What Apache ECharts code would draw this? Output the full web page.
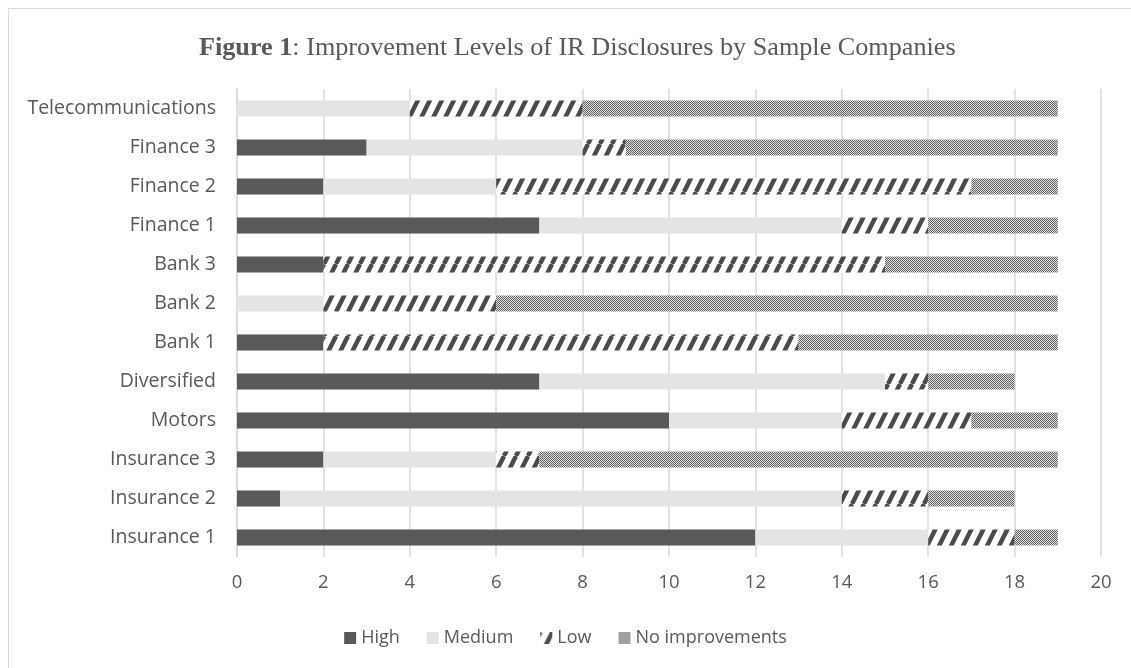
<!DOCTYPE html>
<html><head><meta charset="utf-8">
<script src="https://cdn.jsdelivr.net/npm/echarts@6/dist/echarts.min.js"></script>
<style>html,body{margin:0;padding:0;background:#fff}#c{width:1131px;height:668px}</style>
</head><body><div id="c"></div>
<script>
const categories = ['Insurance 1','Insurance 2','Insurance 3','Motors','Diversified','Bank 1','Bank 2','Bank 3','Finance 1','Finance 2','Finance 3','Telecommunications'];
const high   = [12, 1, 2, 10, 7, 2, 0, 2, 7, 2, 3, 0];
const medium = [4, 13, 4, 4, 8, 0, 2, 0, 7, 4, 5, 4];
const low    = [2, 2, 1, 3, 1, 11, 4, 13, 2, 11, 1, 4];
const noImp  = [1, 2, 12, 2, 2, 6, 13, 4, 3, 2, 10, 11];
const xTicks = [0, 2, 4, 6, 8, 10, 12, 14, 16, 18, 20];

function stripe(){
  const c = document.createElement('canvas'); c.width = 12; c.height = 24;
  const g = c.getContext('2d');
  g.fillStyle = '#fff'; g.fillRect(0,0,12,24);
  g.strokeStyle = '#4a4a4a'; g.lineWidth = 4.5;
  for (let k = -12; k <= 24; k += 12) { g.beginPath(); g.moveTo(k, 24); g.lineTo(k + 12, 0); g.stroke(); }
  return c;
}
function checker(){
  const c = document.createElement('canvas'); c.width = 2; c.height = 2;
  const g = c.getContext('2d');
  g.fillStyle = '#e0e0e0'; g.fillRect(0,0,2,2);
  g.fillStyle = '#606060'; g.fillRect(0,0,1,1); g.fillRect(1,1,1,1);
  return c;
}
const names = ['High','Medium','Low','No improvements'];
const colors = ['#595959', '#e4e4e4', {image: stripe(), repeat: 'repeat'}, {image: checker(), repeat: 'repeat'}];
const vals = [high, medium, low, noImp];
const chart = echarts.init(document.getElementById('c'), null, {renderer: 'canvas'});
chart.setOption({
  animation: false,
  backgroundColor: '#fff',
  graphic: [
    {type: 'line', shape: {x1: 8.5, y1: 8.5, x2: 1131, y2: 8.5}, style: {stroke: '#d9d9d9', lineWidth: 1}},
    {type: 'line', shape: {x1: 8.5, y1: 8.5, x2: 8.5, y2: 668}, style: {stroke: '#d9d9d9', lineWidth: 1}}
  ],
  title: {
    text: '{b|Figure 1}: Improvement Levels of IR Disclosures by Sample Companies',
    left: 194, top: 30,
    textStyle: {fontFamily: 'Liberation Serif', fontSize: 26.2, color: '#595959', fontWeight: 'normal',
      rich: {b: {fontFamily: 'Liberation Serif', fontSize: 26.2, fontWeight: 'bold', color: '#595959'}}}
  },
  legend: {
    data: names, bottom: 16, left: 'center', itemWidth: 12, itemHeight: 12, itemGap: 27,
    icon: 'rect',
    textStyle: {fontFamily: 'Open Sans', fontSize: 18, color: '#595959'}
  },
  grid: {left: 237, right: 30, top: 89, bottom: 111, containLabel: false},
  xAxis: {
    type: 'value', min: 0, max: 20, interval: 2,
    axisLine: {show: false}, axisTick: {show: false},
    splitLine: {lineStyle: {color: '#d9d9d9', width: 1.5}},
    axisLabel: {fontFamily: 'Open Sans', fontSize: 18.5, color: '#595959', margin: 16,
      formatter: v => xTicks.includes(v) ? String(v) : ''}
  },
  yAxis: {
    type: 'category', data: categories,
    axisLine: {lineStyle: {color: '#d9d9d9', width: 1.5}}, axisTick: {show: false},
    axisLabel: {fontFamily: 'Open Sans', fontSize: 19.5, color: '#595959', margin: 21}
  },
  series: names.map((n, i) => ({
    name: n, type: 'bar', stack: 'total', data: vals[i], barCategoryGap: '59%',
    itemStyle: {color: colors[i]}
  }))
});
</script></body></html>
